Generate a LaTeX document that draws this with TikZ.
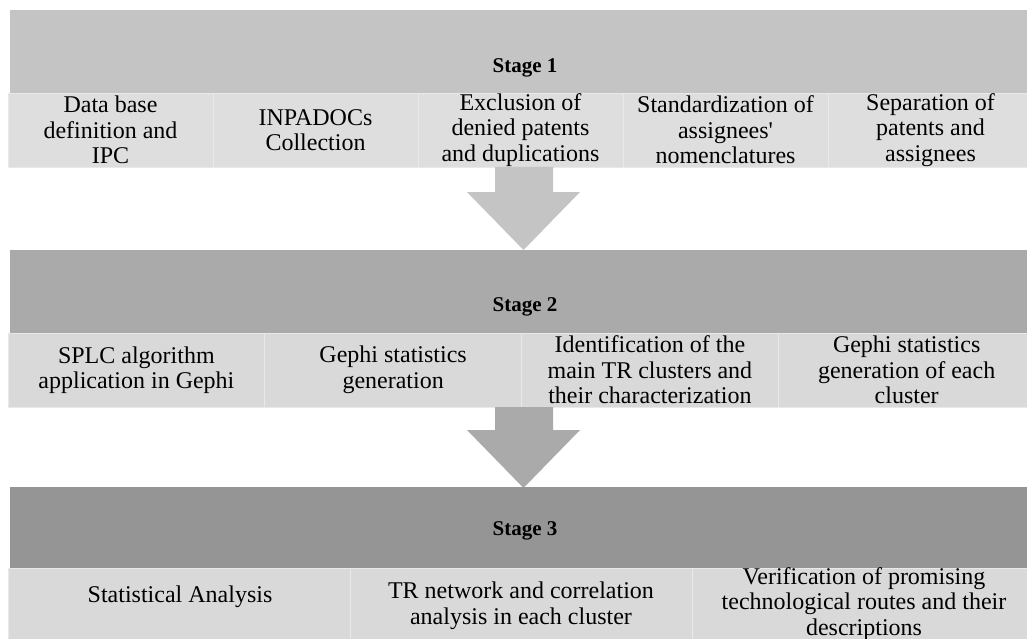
\documentclass[tikz,border=0pt]{standalone}
\usepackage{fontspec}
\setmainfont{Liberation Serif}
\definecolor{hdA}{HTML}{C4C4C4}
\definecolor{hdB}{HTML}{AAAAAA}
\definecolor{hdC}{HTML}{959595}
\definecolor{cellA}{HTML}{DEDEDE}
\definecolor{cellB}{HTML}{D9D9D9}
\definecolor{sep}{HTML}{E9E9E9}
\tikzset{
  band/.style={rectangle, inner sep=0pt, draw=none, minimum height=83pt, minimum width=1023pt},
  cellbox/.style={rectangle, inner sep=0pt, draw=sep, line width=0.8pt, minimum height=74pt, align=center,
    font=\fontsize{24}{25.5}\selectfont},
  celltext/.style={align=center, inner sep=0pt, font=\fontsize{24}{25.5}\selectfont},
  stagetitle/.style={inner sep=0pt, font=\fontsize{21}{24}\selectfont\bfseries}
}
\begin{document}
\begin{tikzpicture}[x=1pt,y=-1pt]
\useasboundingbox (0,0) rectangle (1027,639);
\clip (0,0) rectangle (1027,639);
\fill[white] (0,0) rectangle (1027,639);
% Stage 1
\node[band, fill=hdA] (h1) at (521.5,51.5) {};
\node[stagetitle] (t1) at (525,68) {Stage 1};
\foreach \i/\txt in {0/{Data base\\definition and\\IPC},1/{INPADOCs\\Collection},2/{Exclusion of\\denied patents\\and duplications},3/{Standardization of\\assignees\textquotesingle\\nomenclatures},4/{Separation of\\patents and\\assignees}}{
  \node[cellbox, fill=cellA, minimum width=205pt] (a\i) at ({110.5+205*\i},130) {\txt};
}
% Arrow 1
\fill[hdA] (495,167) -- (553,167) -- (553,192) -- (580,192) -- (523.5,250) -- (467,192) -- (495,192) -- cycle;
% Stage 2
\node[band, fill=hdB] (h2) at (521.5,291) {};
\node[stagetitle] (t2) at (525,307) {Stage 2};
\foreach \i/\txt in {0/{SPLC algorithm\\application in Gephi},1/{Gephi statistics\\generation},2/{Identification of the\\main TR clusters and\\their characterization},3/{Gephi statistics\\generation of each\\cluster}}{
  \node[cellbox, fill=cellB, minimum width=256.75pt] (b\i) at ({136.4+256.75*\i},370) {\txt};
}
% Arrow 2
\fill[hdB] (495,407) -- (553,407) -- (553,430) -- (580,430) -- (523.5,488) -- (467,430) -- (495,430) -- cycle;
% Stage 3
\node[band, fill=hdC] (h3) at (521.5,528) {};
\node[stagetitle] (t3) at (525,531) {Stage 3};
\foreach \i in {0,1,2}{
  \node[rectangle, draw=sep, line width=0.8pt, fill=cellB, inner sep=0pt, minimum width=342pt, minimum height=76pt] (c\i) at ({179+342*\i},606) {};
}
\node[celltext] (s0) at (180,597) {Statistical Analysis};
\node[celltext] (s1) at (521,606) {TR network and correlation\\analysis in each cluster};
\node[celltext] (s2) at (864,604) {Verification of promising\\technological routes and their\\descriptions};
\end{tikzpicture}
\end{document}
